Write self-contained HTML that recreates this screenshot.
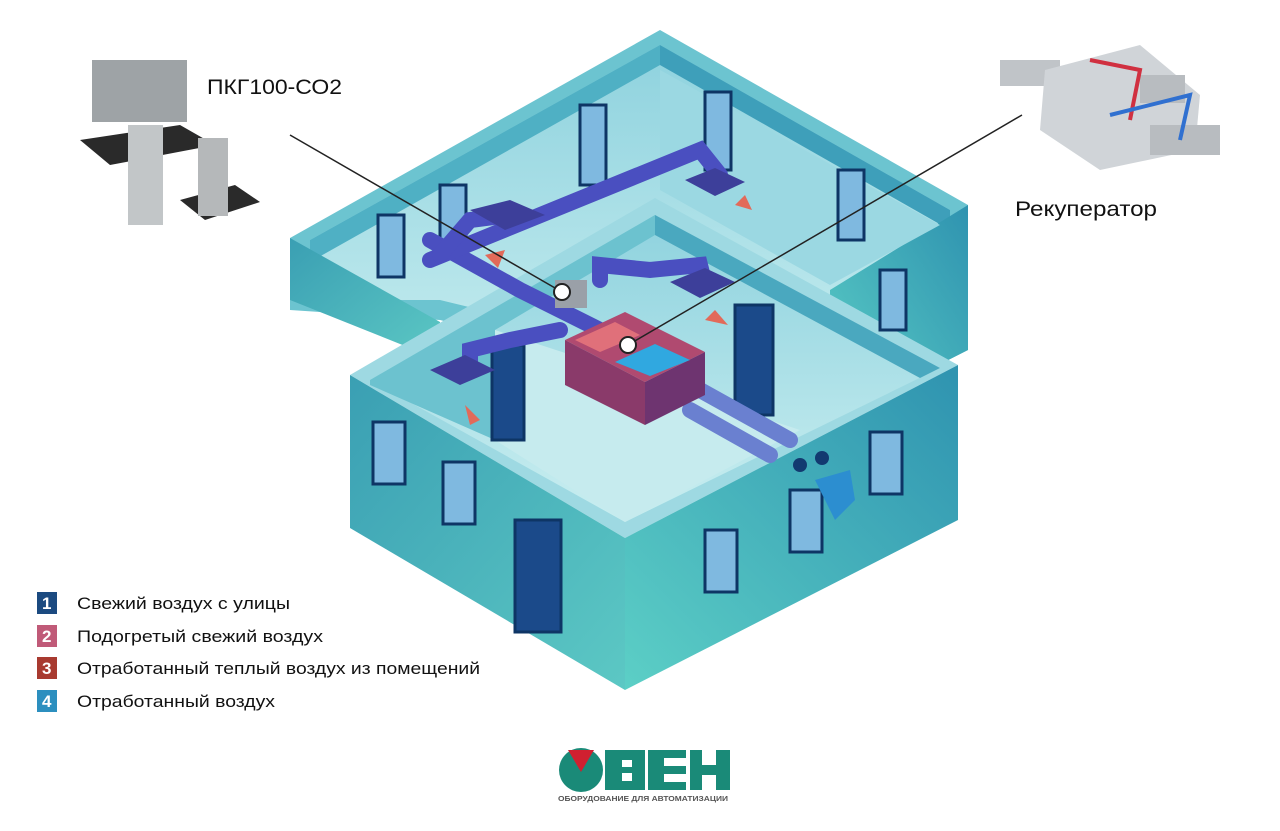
<!DOCTYPE html>
<html><head><meta charset="utf-8"><style>
body{margin:0;background:#fff;width:1280px;height:826px;overflow:hidden;font-family:"Liberation Sans",sans-serif}
</style></head><body>
<svg width="1280" height="826" viewBox="0 0 1280 826" xmlns="http://www.w3.org/2000/svg">
<defs>
<linearGradient id="wl" x1="0" y1="0" x2="1" y2="1"><stop offset="0" stop-color="#3a9fb3"/><stop offset="1" stop-color="#5cc8c4"/></linearGradient>
<linearGradient id="wr" x1="0" y1="1" x2="1" y2="0"><stop offset="0" stop-color="#5ccfc6"/><stop offset="1" stop-color="#2f93b0"/></linearGradient>
<linearGradient id="fl" x1="0" y1="0" x2="0" y2="1"><stop offset="0" stop-color="#8ed2de"/><stop offset="1" stop-color="#c9eef0"/></linearGradient>
</defs>
<!-- back wing -->
<polygon points="290,238 660,30 968,205 968,350 830,420 440,320 290,310" fill="#6cc4d0"/>
<polygon points="310,240 660,45 950,210 950,330 830,395 440,300 310,300" fill="url(#fl)"/>
<polygon points="310,240 660,45 660,65 310,262" fill="#4fb0c4"/>
<polygon points="660,45 950,210 950,230 660,65" fill="#3e9fba"/>
<polygon points="290,238 440,322 440,360 290,300" fill="url(#wl)"/>
<polygon points="830,290 968,205 968,350 830,420" fill="url(#wr)"/>
<polygon points="660,70 940,225 830,285 660,190" fill="#9bd8e2"/>
<!-- front building -->
<polygon points="350,375 655,198 958,365 625,538" fill="#9ed9e2"/>
<polygon points="370,380 655,215 940,368 625,522" fill="url(#fl)"/>
<polygon points="370,380 655,215 655,235 495,330 495,440 370,385" fill="#6cc2cf"/>
<polygon points="655,215 940,368 920,378 655,235" fill="#4aa8bf"/>
<polygon points="350,375 625,538 625,690 350,528" fill="url(#wl)"/>
<polygon points="625,538 958,365 958,520 625,690" fill="url(#wr)"/>
<polygon points="495,440 625,522 800,430 495,330" fill="#c6ebee"/>
<!-- windows -->
<g fill="#1d4f8f" stroke="#0e3565" stroke-width="3">
<rect x="373" y="422" width="32" height="62" fill="#7fb9e0"/>
<rect x="443" y="462" width="32" height="62" fill="#7fb9e0"/>
<rect x="515" y="520" width="46" height="112" fill="#1b4a8a"/>
<rect x="705" y="530" width="32" height="62" fill="#7fb9e0"/>
<rect x="790" y="490" width="32" height="62" fill="#7fb9e0"/>
<rect x="870" y="432" width="32" height="62" fill="#7fb9e0"/>
<rect x="580" y="105" width="26" height="80" fill="#7fb9e0"/>
<rect x="705" y="92" width="26" height="78" fill="#7fb9e0"/>
<rect x="838" y="170" width="26" height="70" fill="#7fb9e0"/>
<rect x="880" y="270" width="26" height="60" fill="#7fb9e0"/>
<rect x="378" y="215" width="26" height="62" fill="#7fb9e0"/>
<rect x="440" y="185" width="26" height="62" fill="#7fb9e0"/>
<rect x="735" y="305" width="38" height="110" fill="#1b4a8a"/>
<rect x="492" y="345" width="32" height="95" fill="#1b4a8a"/>
</g>
<!-- ducts -->
<g stroke="#4a4fc0" stroke-width="16" fill="none" stroke-linecap="round">
<path d="M430,240 L520,290 L600,330"/>
<path d="M430,260 L700,150 L720,175"/>
<path d="M440,255 L470,220 L510,215"/>
<path d="M600,280 L600,265 L650,270 L700,265 L705,285"/>
<path d="M470,370 L470,350 L510,340 L560,330"/>
<path d="M700,390 L790,440" stroke="#6a80d0"/>
<path d="M690,410 L770,455" stroke="#6a80d0"/>
</g>
<g fill="#3d3f9a"><polygon points="470,210 510,200 545,215 505,230"/><polygon points="685,180 715,168 745,182 715,196"/><polygon points="670,282 705,268 735,282 700,298"/><polygon points="430,370 465,355 495,370 460,385"/></g>
<!-- unit -->
<polygon points="565,340 625,312 705,352 645,382" fill="#b04a70"/>
<polygon points="565,340 645,382 645,425 565,385" fill="#8a3a6a"/>
<polygon points="645,382 705,352 705,395 645,425" fill="#6e3470"/>
<polygon points="575,340 615,322 640,335 600,352" fill="#e0707a"/>
<polygon points="615,362 655,344 690,360 650,376" fill="#30a8e0"/>
<rect x="555" y="280" width="32" height="28" fill="#9aa0a8"/>
<!-- arrows -->
<g fill="#e26a5a"><polygon points="485,255 505,250 498,268"/><polygon points="735,205 745,195 752,210"/><polygon points="705,320 715,310 728,325"/><polygon points="465,405 480,420 470,425"/></g>
<g fill="#2c8ed0"><polygon points="815,480 850,470 855,500 835,520"/><circle cx="800" cy="465" r="7" fill="#123a70"/><circle cx="822" cy="458" r="7" fill="#123a70"/></g>
<!-- callouts -->
<line x1="290" y1="135" x2="562" y2="292" stroke="#222" stroke-width="1.5"/>
<line x1="1022" y1="115" x2="628" y2="345" stroke="#222" stroke-width="1.5"/>
<circle cx="562" cy="292" r="8" fill="#fff" stroke="#222" stroke-width="2"/>
<circle cx="628" cy="345" r="8" fill="#fff" stroke="#222" stroke-width="2"/>
<text x="207" y="94" font-size="21" fill="#111" textLength="135" lengthAdjust="spacingAndGlyphs">ПКГ100-СО2</text>
<text x="1015" y="216" font-size="21" fill="#111" textLength="142" lengthAdjust="spacingAndGlyphs">Рекуператор</text>
<!-- sensor -->
<rect x="92" y="60" width="95" height="62" fill="#9ea3a6"/>
<polygon points="80,140 180,125 215,145 110,165" fill="#2a2a2a"/>
<rect x="128" y="125" width="35" height="100" fill="#c2c6c8"/>
<polygon points="180,200 235,185 260,202 205,220" fill="#2a2a2a"/>
<rect x="198" y="138" width="30" height="78" fill="#b5b8ba"/>
<!-- recuperator -->
<rect x="1000" y="60" width="60" height="26" fill="#c0c4c8"/>
<polygon points="1045,70 1140,45 1200,95 1195,150 1100,170 1040,130" fill="#d0d4d8"/>
<rect x="1150" y="125" width="70" height="30" fill="#b8bcc0"/>
<rect x="1140" y="75" width="45" height="28" fill="#b8bcc0"/>
<path d="M1090,60 L1140,70 L1130,120" stroke="#d03040" stroke-width="4" fill="none"/>
<path d="M1110,115 L1190,95 L1180,140" stroke="#3070d0" stroke-width="4" fill="none"/>
<!-- legend -->
<g font-size="17" fill="#111">
<rect x="37" y="592" width="20" height="22" fill="#1b4a80"/><text x="42" y="609" fill="#fff" font-weight="bold">1</text><text x="77" y="609" textLength="213" lengthAdjust="spacingAndGlyphs">Свежий воздух с улицы</text>
<rect x="37" y="625" width="20" height="22" fill="#c05a78"/><text x="42" y="642" fill="#fff" font-weight="bold">2</text><text x="77" y="642" textLength="246" lengthAdjust="spacingAndGlyphs">Подогретый свежий воздух</text>
<rect x="37" y="657" width="20" height="22" fill="#a83a30"/><text x="42" y="674" fill="#fff" font-weight="bold">3</text><text x="77" y="674" textLength="403" lengthAdjust="spacingAndGlyphs">Отработанный теплый воздух из помещений</text>
<rect x="37" y="690" width="20" height="22" fill="#2c8fbf"/><text x="42" y="707" fill="#fff" font-weight="bold">4</text><text x="77" y="707" textLength="198" lengthAdjust="spacingAndGlyphs">Отработанный воздух</text>
</g>
<!-- logo -->
<circle cx="581" cy="770" r="22" fill="#1a8a78"/>
<polygon points="568,750 594,750 581,772" fill="#d02030"/>
<rect x="605" y="750" width="40" height="40" fill="#1a8a78"/>
<rect x="648" y="750" width="38" height="40" fill="#1a8a78"/>
<rect x="690" y="750" width="40" height="40" fill="#1a8a78"/>
<g fill="#fff"><rect x="622" y="760" width="10" height="7"/><rect x="622" y="773" width="10" height="8"/><rect x="664" y="758" width="22" height="8"/><rect x="664" y="774" width="22" height="8"/><rect x="702" y="750" width="14" height="15"/><rect x="702" y="775" width="14" height="15"/></g>
<text x="558" y="801" font-size="7" fill="#555" font-weight="bold" textLength="170" lengthAdjust="spacingAndGlyphs">ОБОРУДОВАНИЕ ДЛЯ АВТОМАТИЗАЦИИ</text>
</svg>
</body></html>
